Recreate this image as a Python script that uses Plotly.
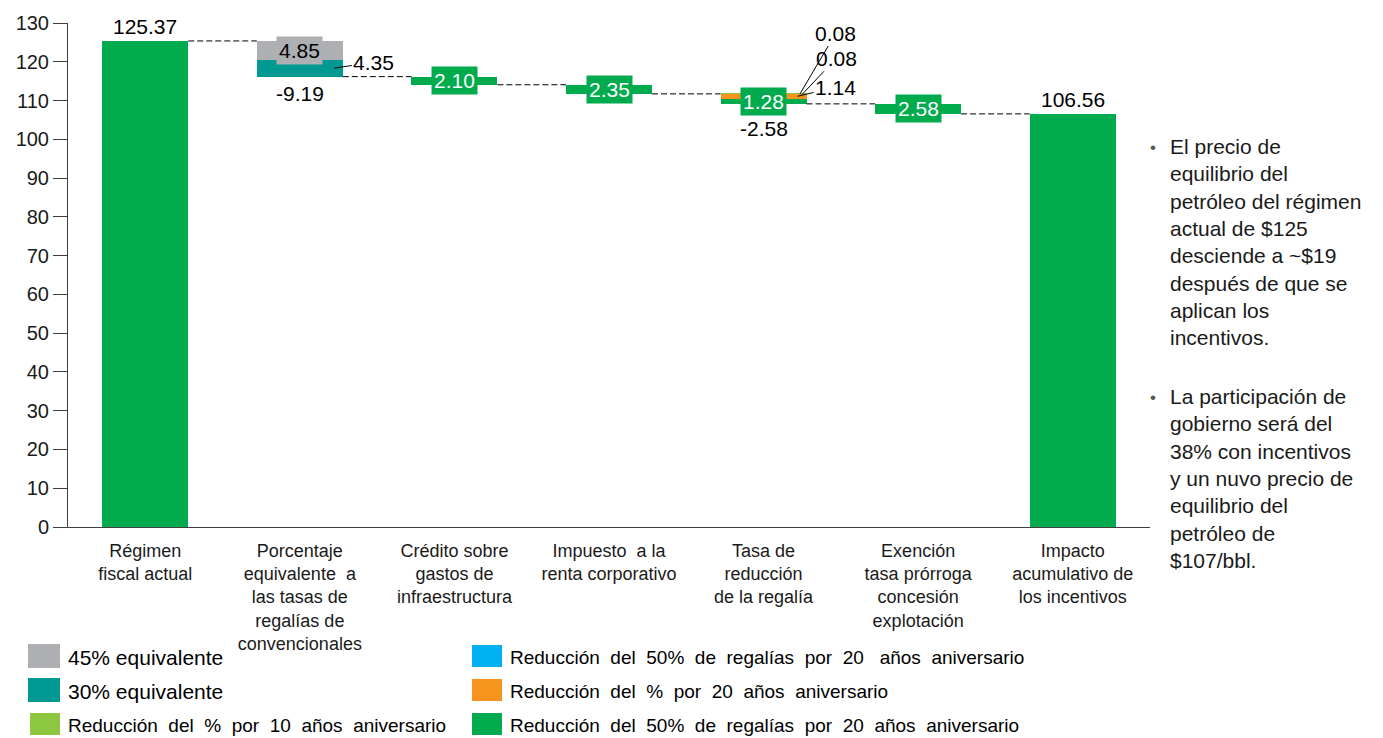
import plotly.graph_objects as go

# ---------------- data ----------------
categories = [
    "Régimen<br>fiscal actual",
    "Porcentaje<br>equivalente  a<br>las tasas de<br>regalías de<br>convencionales",
    "Crédito sobre<br>gastos de<br>infraestructura",
    "Impuesto  a la<br>renta corporativo",
    "Tasa de<br>reducción<br>de la regalía",
    "Exención<br>tasa prórroga<br>concesión<br>explotación",
    "Impacto<br>acumulativo de<br>los incentivos",
]
start_total = 125.37
final_total = 106.56

series_names = [
    "45% equivalente",
    "30% equivalente",
    "Reducción  del  %  por  10  años  aniversario",
    "Reducción  del  50%  de  regalías  por  20   años  aniversario",
    "Reducción  del  %  por  20  años  aniversario",
    "Reducción  del  50%  de  regalías  por  20  años  aniversario",
]
# decreases per category (stacked from the top downwards in this order)
s45_equiv = [0, 4.85, 0, 0, 0, 0, 0]
s30_equiv = [0, 4.35, 0, 0, 0, 0, 0]
s_pct_10y = [0, 0, 0, 0, 0.08, 0, 0]
s_50_20y_blue = [0, 0, 0, 0, 0.08, 0, 0]
s_pct_20y = [0, 0, 0, 0, 1.14, 0, 0]
s_50_20y = [0, 0, 2.10, 2.35, 1.28, 2.58, 0]
step_totals = [None, -9.19, None, None, -2.58, None, None]

series_values = [s45_equiv, s30_equiv, s_pct_10y, s_50_20y_blue, s_pct_20y, s_50_20y]
series_colors = ["#ADAFB2", "#009A93", "#8DC63F", "#00B0F0", "#F7941D", "#00AB4E"]

FONT = "Liberation Sans, Arial, sans-serif"
BAR_W = 0.556

# ---------------- waterfall geometry ----------------
n = len(categories)
bases = [[None] * n for _ in series_values]
heights = [[None] * n for _ in series_values]
levels = [start_total]  # level after each category
level = start_total
for i in range(1, n - 1):
    top = level
    for k, vals in enumerate(series_values):
        v = vals[i]
        if v:
            bases[k][i] = top - v
            heights[k][i] = v
            top -= v
    level = top
    levels.append(level)
levels.append(final_total)

fig = go.Figure()
# total bars
fig.add_trace(go.Bar(
    x=[0, n - 1], y=[start_total, final_total], base=[0, 0], width=BAR_W,
    marker=dict(color=series_colors[5], line=dict(width=0)),
    showlegend=False, hoverinfo="skip"))
for k in range(len(series_values)):
    fig.add_trace(go.Bar(
        x=list(range(n)), y=heights[k], base=bases[k], width=BAR_W,
        marker=dict(color=series_colors[k], line=dict(width=0)),
        name=series_names[k], showlegend=False))

shapes = []
# connector dashed lines
for i in range(n - 1):
    shapes.append(dict(type="line", xref="x", yref="y",
                       x0=i + BAR_W / 2, x1=i + 1 - BAR_W / 2,
                       y0=levels[i], y1=levels[i],
                       line=dict(color="black", width=1, dash="6px,3px")))

annotations = []
# totals labels
for i, v in [(0, start_total), (n - 1, final_total)]:
    annotations.append(dict(x=i, y=v, text=f"{v:.2f}", showarrow=False,
                            yanchor="bottom", yshift=1,
                            font=dict(family=FONT, size=21, color="black")))

# in-bar labels (gray and green)
for k, color, fcolor in [(0, series_colors[0], "black"), (5, series_colors[5], "white")]:
    for i in range(n):
        if heights[k][i]:
            annotations.append(dict(
                x=i, y=bases[k][i] + heights[k][i] / 2, text=f"{heights[k][i]:.2f}",
                showarrow=False, bgcolor=color, borderpad=2,
                font=dict(family=FONT, size=21, color=fcolor)))

# step total labels below
for i, t in enumerate(step_totals):
    if t is not None:
        annotations.append(dict(x=i, y=levels[i], text=f"{t:.2f}", showarrow=False,
                                yanchor="top", yshift=-3 if i == 1 else -11,
                                font=dict(family=FONT, size=21, color="black")))

# leader-line labels
def leader(k, i, dx, frac, ax, ay):
    v = heights[k][i]
    annotations.append(dict(
        x=i + dx, y=bases[k][i] + v * frac, text=f"{v:.2f}",
        showarrow=True, arrowhead=0, arrowwidth=1, arrowcolor="black",
        ax=ax, ay=ay, font=dict(family=FONT, size=21, color="black")))

leader(1, 1, 0.22, 0.5, 40, -6)
leader(2, 4, 0.235, 0.5, 36, -61)
leader(3, 4, 0.25, 0.5, 34, -36)
leader(4, 4, 0.22, 0.6, 38, -9)

# ---- right-hand text ----
def px_x(p):
    return (p - 68) / 1082.0

def px_y(p):
    return (527 - p) / 504.0

para1 = ("El precio de<br>equilibrio del<br>petróleo del régimen<br>actual de $125<br>"
         "desciende a ~$19<br>después de que se<br>aplican los<br>incentivos.")
para2 = ("La participación de<br>gobierno será del<br>38% con incentivos<br>"
         "y un nuvo precio de<br>equilibrio del<br>petróleo de<br>$107/bbl.")
for txt, top in [(para1, 133), (para2, 383)]:
    annotations.append(dict(xref="paper", yref="paper", x=px_x(1168), y=px_y(top),
                            xanchor="left", yanchor="top", align="left", showarrow=False,
                            text=txt, font=dict(family=FONT, size=21, color="#1a1a1a")))
    annotations.append(dict(xref="paper", yref="paper", x=px_x(1153), y=px_y(top + 14),
                            xanchor="center", yanchor="middle", showarrow=False,
                            text="•", font=dict(family=FONT, size=17, color="#555")))

# ---- legend (drawn manually in two columns) ----
legend_layout = [  # (series index, swatch x0, x1, y0, y1, text x, font size)
    (0, 28, 60, 644, 668, 66, 21),
    (1, 28, 60, 678, 702, 66, 21),
    (2, 30, 60, 713, 735, 66, 19),
    (3, 472, 502, 645, 667, 508, 19),
    (4, 472, 502, 679, 701, 508, 19),
    (5, 472, 502, 713, 735, 508, 19),
]
for k, x0, x1, y0, y1, tx, fs in legend_layout:
    shapes.append(dict(type="rect", xref="paper", yref="paper",
                       x0=px_x(x0), x1=px_x(x1), y0=px_y(y1), y1=px_y(y0),
                       fillcolor=series_colors[k], line=dict(width=0)))
    annotations.append(dict(xref="paper", yref="paper", x=px_x(tx), y=px_y((y0 + y1) / 2 + 1),
                            xanchor="left", yanchor="middle", showarrow=False,
                            text=series_names[k].replace("  ", " ") if k < 2 else series_names[k],
                            font=dict(family=FONT, size=fs, color="black")))

fig.update_layout(
    width=1383, height=738,
    margin=dict(l=68, r=233, t=23, b=211),
    paper_bgcolor="white", plot_bgcolor="white",
    barmode="overlay", bargap=0,
    showlegend=False,
    shapes=shapes, annotations=annotations,
    font=dict(family=FONT, color="black"),
    xaxis=dict(range=[-0.5, n - 0.5], tickvals=list(range(n)), ticktext=categories,
               showgrid=False, zeroline=False, showline=True, linecolor="#404040", linewidth=1,
               ticks="outside", ticklen=7, tickcolor="rgba(0,0,0,0)",
               tickfont=dict(family=FONT, size=18, color="#1a1a1a")),
    yaxis=dict(range=[0, 130], dtick=10, showgrid=False, zeroline=False,
               showline=True, linecolor="#404040", linewidth=1,
               ticks="outside", ticklen=14, tickcolor="#404040",
               tickfont=dict(family=FONT, size=20, color="#1a1a1a")),
)

fig.write_html("out.html", config={"displayModeBar": False},
               post_script="document.body.style.margin='0';document.body.style.overflow='hidden';")
